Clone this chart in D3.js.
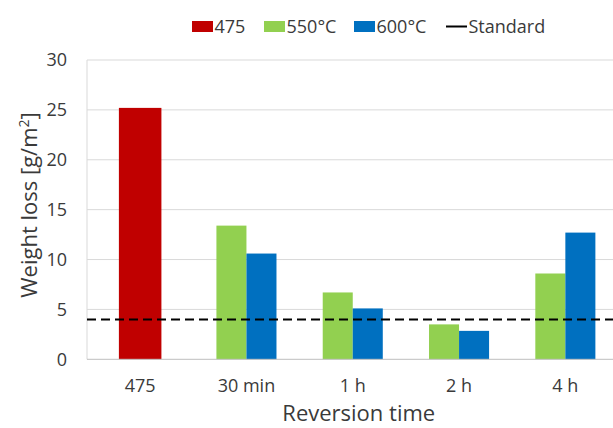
<!DOCTYPE html>
<html>
<head>
<meta charset="utf-8">
<script src="https://cdn.jsdelivr.net/npm/d3@7"></script>
<style>
  body { margin: 0; background: #fff; }
  svg { display: block; font-family: "Open Sans", sans-serif; }
</style>
</head>
<body>
<script>
// data
const categories = ["475", "30 min", "1 h", "2 h", "4 h"];
const values475 = [25.2, null, null, null, null];
const values550 = [null, 13.4, 6.7, 3.5, 8.6];
const values600 = [null, 10.6, 5.1, 2.85, 12.7];
const standard = 4;
const yTicks = [0, 5, 10, 15, 20, 25, 30];

const legendItems = [
  {label: "475", color: "#C00000", type: "rect"},
  {label: "550°C", color: "#92D050", type: "rect"},
  {label: "600°C", color: "#0070C0", type: "rect"},
  {label: "Standard", color: "#000", type: "line"}
];

const W = 613, H = 428;
const plot = {left: 87, right: 618.5, top: 60, bottom: 359.3};
const textColor = "#3a3a3a";

const svg = d3.select("body").append("svg")
    .attr("width", W)
    .attr("height", H);

const x = d3.scaleBand()
    .domain(categories)
    .range([plot.left, plot.right]);

const y = d3.scaleLinear()
    .domain([0, 30])
    .range([plot.bottom, plot.top]);

// pair of bars inside each category, single red bar in "475"
const xPair = d3.scaleBand()
    .domain(["550", "600"])
    .range([0, x.bandwidth()])
    .paddingOuter(0.77);

const xSingle = d3.scaleBand()
    .domain(["475"])
    .range([0, x.bandwidth()])
    .paddingOuter(0.75);

// gridlines
svg.append("g").selectAll("line")
    .data(yTicks.filter(d => d > 0))
    .enter().append("line")
    .attr("x1", plot.left)
    .attr("x2", plot.right)
    .attr("y1", d => y(d))
    .attr("y2", d => y(d))
    .attr("stroke", "#d9d9d9")
    .attr("stroke-width", 1);

// plot area border (left side)
svg.append("line")
    .attr("x1", plot.left).attr("x2", plot.left)
    .attr("y1", plot.top).attr("y2", plot.bottom)
    .attr("stroke", "#d9d9d9");

// bars
const rows = categories.map((c, i) => ({cat: c, v475: values475[i], v550: values550[i], v600: values600[i]}));

svg.append("g").selectAll("rect")
    .data(rows.filter(d => d.v475 != null))
    .enter().append("rect")
    .attr("x", d => x(d.cat) + xSingle("475"))
    .attr("width", xSingle.bandwidth())
    .attr("y", d => y(d.v475))
    .attr("height", d => y(0) - y(d.v475))
    .attr("fill", "#C00000");

svg.append("g").selectAll("rect")
    .data(rows.filter(d => d.v550 != null))
    .enter().append("rect")
    .attr("x", d => x(d.cat) + xPair("550"))
    .attr("width", xPair.bandwidth())
    .attr("y", d => y(d.v550))
    .attr("height", d => y(0) - y(d.v550))
    .attr("fill", "#92D050");

svg.append("g").selectAll("rect")
    .data(rows.filter(d => d.v600 != null))
    .enter().append("rect")
    .attr("x", d => x(d.cat) + xPair("600"))
    .attr("width", xPair.bandwidth())
    .attr("y", d => y(d.v600))
    .attr("height", d => y(0) - y(d.v600))
    .attr("fill", "#0070C0");

// baseline
svg.append("line")
    .attr("x1", plot.left).attr("x2", plot.right)
    .attr("y1", y(0)).attr("y2", y(0))
    .attr("stroke", "#bfbfbf")
    .attr("stroke-width", 1);

// standard line
svg.append("line")
    .attr("x1", plot.left).attr("x2", plot.right)
    .attr("y1", y(standard)).attr("y2", y(standard))
    .attr("stroke", "#000")
    .attr("stroke-width", 2)
    .attr("stroke-dasharray", "9,5");

// axes
const yAxis = svg.append("g")
    .attr("transform", `translate(${plot.left - 20},0)`)
    .call(d3.axisLeft(y).tickValues(yTicks).tickSize(0).tickPadding(0));
yAxis.select(".domain").remove();
yAxis.selectAll("text")
    .attr("fill", textColor)
    .style("font-family", "'Open Sans', sans-serif")
    .style("font-size", "18px");

const xAxis = svg.append("g")
    .attr("transform", `translate(0,${plot.bottom})`)
    .call(d3.axisBottom(x).tickSize(0).tickPadding(20));
xAxis.select(".domain").remove();
xAxis.selectAll("text")
    .attr("fill", textColor)
    .style("font-family", "'Open Sans', sans-serif")
    .style("font-size", "18px");

// axis titles
svg.append("text")
    .attr("x", (plot.left + plot.right) / 2 + 6)
    .attr("y", 421)
    .attr("text-anchor", "middle")
    .attr("fill", textColor)
    .style("font-size", "22px")
    .text("Reversion time");

const yTitle = svg.append("text")
    .attr("transform", "translate(37,205) rotate(-90)")
    .attr("text-anchor", "middle")
    .attr("fill", textColor)
    .style("font-size", "22px");
yTitle.append("tspan").text("Weight loss [g/m");
yTitle.append("tspan").attr("dy", -8).style("font-size", "14px").text("2");
yTitle.append("tspan").attr("dy", 8).text("]");

// legend
const legendX = [192, 264, 354, 446];
const legend = svg.append("g").selectAll("g")
    .data(legendItems)
    .enter().append("g")
    .attr("transform", (d, i) => `translate(${legendX[i]},0)`);

legend.filter(d => d.type === "rect").append("rect")
    .attr("x", 0).attr("y", 21)
    .attr("width", 21).attr("height", 11)
    .attr("fill", d => d.color);

legend.filter(d => d.type === "line").append("line")
    .attr("x1", 0).attr("x2", 21)
    .attr("y1", 26.5).attr("y2", 26.5)
    .attr("stroke", d => d.color)
    .attr("stroke-width", 2);

legend.append("text")
    .attr("x", 22.5)
    .attr("y", 33)
    .attr("fill", textColor)
    .style("font-size", "18px")
    .text(d => d.label);
</script>
</body>
</html>
